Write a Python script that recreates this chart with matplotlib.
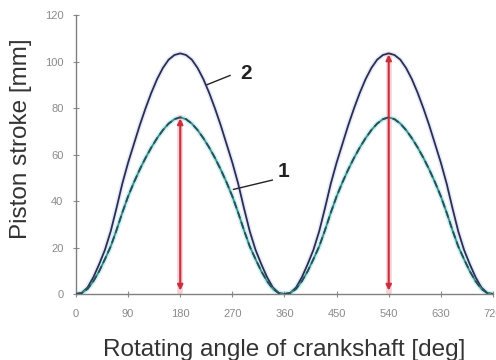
import matplotlib
matplotlib.use("Agg")
import matplotlib.pyplot as plt

# crank angle [deg]
angle = list(range(0, 730, 10))

# one stroke cycle 0..360, curve 1 and curve 2
cycle_1 = [0, 0.4, 2.2, 5.5, 9.8, 15.0, 20.5, 27.5, 35.0, 42.0,
           48.0, 53.5, 58.5, 63.0, 67.0, 70.5, 73.3, 75.2, 76.0,
           75.2, 73.3, 70.5, 67.0, 63.0, 58.5, 53.5, 48.0, 42.0,
           35.0, 27.5, 20.5, 15.0, 9.8, 5.5, 2.2, 0.4, 0]
cycle_2 = [0, 0.5, 2.8, 7.2, 12.8, 19.0, 27.0, 37.0, 47.5, 56.5,
           64.5, 72.5, 79.8, 86.5, 92.4, 97.2, 100.8, 102.8, 103.5,
           102.8, 100.8, 97.2, 92.4, 86.5, 79.8, 72.5, 64.5, 56.5,
           47.5, 37.0, 27.0, 19.0, 12.8, 7.2, 2.8, 0.5, 0]

stroke_1 = cycle_1 + cycle_1[1:]
stroke_2 = cycle_2 + cycle_2[1:]

# red arrows: (angle, bottom, top)
arrows = [(180, 1.5, 75.5), (540, 1.5, 103.0)]

xticks = [0, 90, 180, 270, 360, 450, 540, 630, 720]
yticks = [0, 20, 40, 60, 80, 100, 120]


def main():
    plt.rcParams['font.family'] = ['Liberation Sans', 'DejaVu Sans']
    fig = plt.figure(figsize=(4.96, 3.6), dpi=100)
    ax = fig.add_axes([0.1532, 0.1833, 0.8407, 0.775])

    # soft glow under the lines
    ax.plot(angle, stroke_2, color='#e6ebf6', lw=3.5, zorder=1)
    ax.plot(angle, stroke_1, color='#cdf1f0', lw=3.5, zorder=1)
    ax.plot(angle, stroke_2, color='#2b2d55', lw=1.3, zorder=3)
    ax.plot(angle, stroke_1, color='#3a8f88', lw=1.3, zorder=3)
    ax.plot(angle, stroke_1, color='#2c4c5c', lw=1.3, dashes=(4, 2), zorder=3)

    for x, y0, y1 in arrows:
        ax.plot([x, x], [y0, y1], color='#f6d2d6', lw=4, zorder=2)
        ax.annotate('', xy=(x, y1), xytext=(x, y0),
                    arrowprops=dict(arrowstyle='<|-|>', color='#c8303e', lw=1.5,
                                    mutation_scale=8, shrinkA=0, shrinkB=0),
                    zorder=4)

    # labels 1 and 2 with leader lines
    ax.plot([226, 266], [90, 94], color='#222222', lw=1)
    ax.text(294, 95, '2', fontsize=15, fontweight='bold', color='#222222',
            ha='center', va='center')
    ax.plot([272, 339], [45, 49], color='#222222', lw=1)
    ax.text(358, 52.5, '1', fontsize=15, fontweight='bold', color='#222222',
            ha='center', va='center')

    ax.set_xlim(0, 720)
    ax.set_ylim(0, 120)
    ax.set_xticks(xticks)
    ax.set_yticks(yticks)
    ax.tick_params(colors='#8a8a8a', labelsize=8, direction='inout', length=4, width=0.8)
    ax.tick_params(axis='x', pad=9)
    ax.tick_params(axis='y', pad=7)
    for s in ['top', 'right']:
        ax.spines[s].set_visible(False)
    for s in ['left', 'bottom']:
        ax.spines[s].set_color('#808080')
        ax.spines[s].set_linewidth(1)

    ax.set_xlabel('Rotating angle of crankshaft [deg]', fontsize=17.5, color='#333333', labelpad=14)
    ax.set_ylabel('Piston stroke [mm]', fontsize=17.5, color='#333333')
    ax.yaxis.set_label_coords(-0.106, 0.555)

    fig.savefig('out.png', dpi=100)


if __name__ == "__main__":
    main()
